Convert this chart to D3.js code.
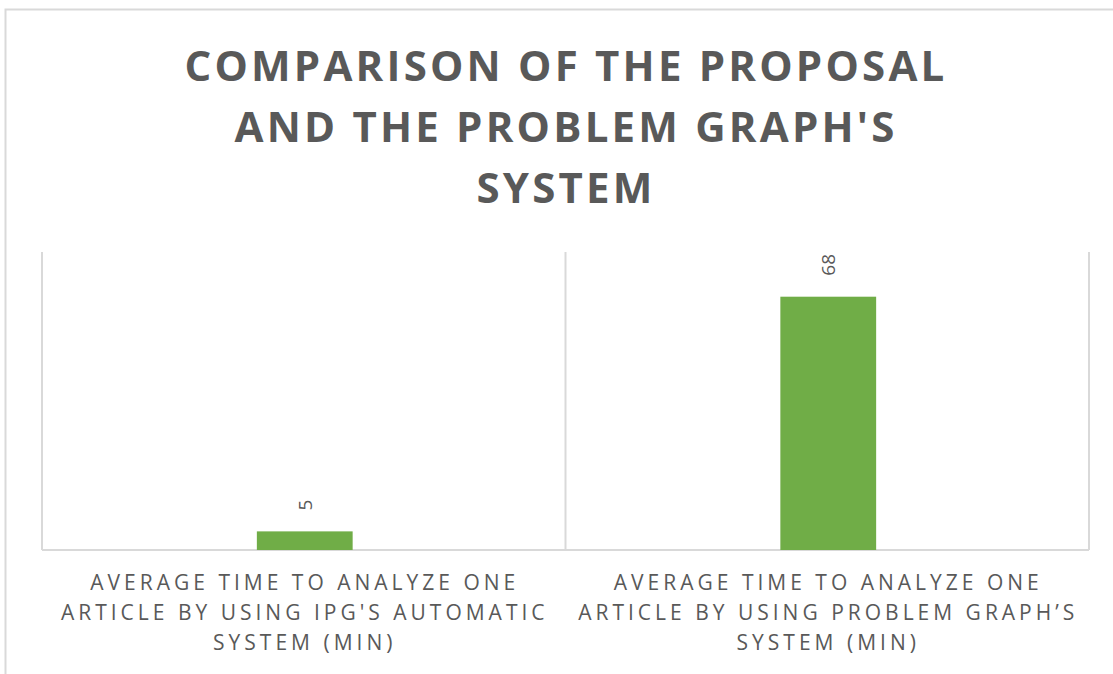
<!DOCTYPE html>
<html>
<head>
<meta charset="utf-8">
<script src="https://cdn.jsdelivr.net/npm/d3@7"></script>
<style>
  body { margin: 0; background: #ffffff; }
  svg { display: block; }
</style>
</head>
<body>
<svg id="chart" width="1113" height="674"></svg>
<script>
// data
var categories = [
    ["AVERAGE TIME TO ANALYZE ONE", "ARTICLE BY USING IPG'S AUTOMATIC", "SYSTEM (MIN)"],
    ["AVERAGE TIME TO ANALYZE ONE", "ARTICLE BY USING PROBLEM GRAPH\u2019S", "SYSTEM (MIN)"]
]
var values = [5, 68]
var titleLines = ["COMPARISON OF THE PROPOSAL", "AND THE PROBLEM GRAPH'S", "SYSTEM"]

var svg = d3.select("#chart")
var textColor = "#595959"
var gridColor = "#d9d9d9"

// outer frame (top and left edges visible)
svg.append("path")
    .attr("d", "M5.5,674 V9.5 H1113")
    .attr("fill", "none")
    .attr("stroke", gridColor)
    .attr("stroke-width", 2)

// title
svg.append("g").selectAll("text")
    .data(titleLines)
    .enter()
    .append("text")
        .attr("x", 566)
        .attr("y", function(d, i){ return 81 + i * 61 })
        .attr("text-anchor", "middle")
        .attr("font-family", "'Open Sans', sans-serif")
        .attr("font-weight", "bold")
        .attr("font-size", 42)
        .attr("letter-spacing", 3.2)
        .attr("fill", textColor)
        .text(function(d){ return d })

var plotLeft = 42, plotRight = 1089, plotTop = 252, plotBottom = 550

var x = d3.scaleBand()
    .domain(d3.range(values.length))
    .range([plotLeft, plotRight])
    .paddingInner(0)
    .paddingOuter(0)

var y = d3.scaleLinear()
    .domain([0, 80])
    .range([plotBottom, plotTop])

var barWidth = x.bandwidth() * 0.183

// category separators
var grid = svg.append("g")
grid.selectAll("line.sep")
    .data(d3.range(values.length + 1))
    .enter()
    .append("line")
        .attr("class", "sep")
        .attr("x1", function(i){ return i < values.length ? x(i) : x(i - 1) + x.bandwidth() })
        .attr("x2", function(i){ return i < values.length ? x(i) : x(i - 1) + x.bandwidth() })
        .attr("y1", plotTop)
        .attr("y2", plotBottom)
        .attr("stroke", gridColor)
        .attr("stroke-width", 2)

// bars
svg.append("g").selectAll("rect")
    .data(values)
    .enter()
    .append("rect")
        .attr("x", function(d, i){ return x(i) + x.bandwidth() / 2 - barWidth / 2 + 1 })
        .attr("y", function(d){ return y(d) })
        .attr("width", barWidth)
        .attr("height", function(d){ return y(0) - y(d) })
        .attr("fill", "#70ad47")

// baseline
grid.append("line")
    .attr("x1", plotLeft)
    .attr("x2", plotRight)
    .attr("y1", plotBottom)
    .attr("y2", plotBottom)
    .attr("stroke", gridColor)
    .attr("stroke-width", 2)

// value labels, rotated
svg.append("g").selectAll("text")
    .data(values)
    .enter()
    .append("text")
        .attr("transform", function(d, i){
            return "translate(" + (x(i) + x.bandwidth() / 2 + 8) + "," + (y(d) - 21) + ") rotate(-90)"
        })
        .attr("text-anchor", "start")
        .attr("font-family", "'Open Sans', sans-serif")
        .attr("font-size", 19)
        .attr("fill", textColor)
        .text(function(d){ return d })

// category labels
var catGroups = svg.append("g").selectAll("g")
    .data(categories)
    .enter()
    .append("g")

catGroups.selectAll("text")
    .data(function(d, i){ return d.map(function(line){ return { line: line, i: i } }) })
    .enter()
    .append("text")
        .attr("x", function(d){ return x(d.i) + x.bandwidth() / 2 + 1 })
        .attr("y", function(d, j){ return 590 + j * 30 })
        .attr("text-anchor", "middle")
        .attr("font-family", "'Open Sans', sans-serif")
        .attr("font-size", 21)
        .attr("letter-spacing", 4)
        .attr("fill", textColor)
        .text(function(d){ return d.line })
</script>
</body>
</html>
